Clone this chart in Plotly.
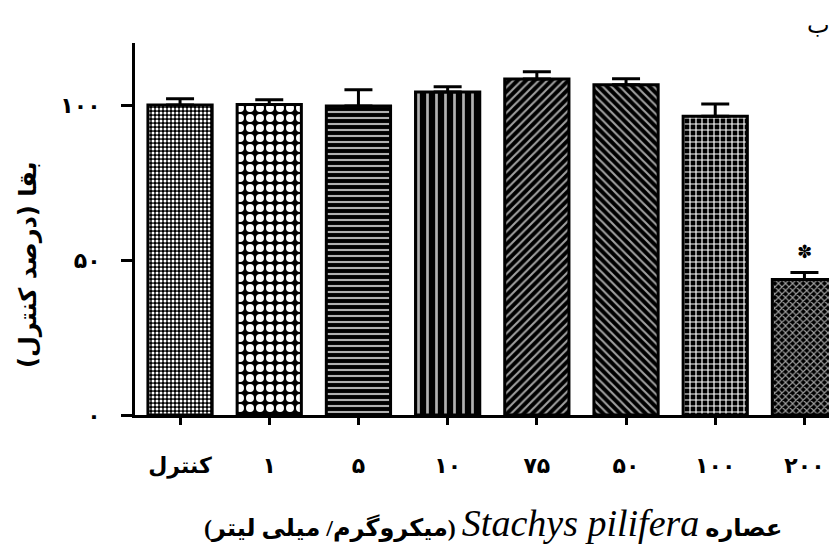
import plotly.graph_objects as go

categories = ["کنترل", "۱", "۵", "۱۰", "۷۵", "۵۰", "۱۰۰", "۲۰۰"]
survival = [100.0, 100.2, 99.7, 104.2, 108.4, 106.5, 96.4, 43.7]
sem = [2.0, 1.5, 5.2, 1.7, 2.3, 2.0, 3.9, 2.3]
ytick_vals = [0, 50, 100]
ytick_text = ["۰", "۵۰", "۱۰۰"]

shapes = [".", ".", "-", "|", "/", "\\", "+", "x"]
fg = ["white", "white", "#b0b0b0", "#b0b0b0", "#a0a0a0", "#a0a0a0", "white", "#a0a0a0"]
psize = [4, 10, 6, 9, 6, 6, 6, 5]
solid = [0.45, 0.5, 0.35, 0.3, 0.35, 0.35, 0.35, 0.4]

AR = "DejaVu Sans"
RLE, PDF = "\u202b", "\u202c"

# the page body has an 8px margin; the figure is sized so the plot sits where the reference has it
OFF = 8
PLOT_L, PLOT_T, PLOT_W, PLOT_H = 135, 43, 702, 372
FIG_W, FIG_H = 837 - OFF, 546 - OFF


def px(sx):
    return (sx - PLOT_L) / PLOT_W


def py(sy):
    return (PLOT_T + PLOT_H - sy) / PLOT_H


fig = go.Figure()
fig.add_trace(go.Bar(
    x=categories, y=survival, width=0.72,
    marker=dict(color="black", line=dict(color="black", width=3),
                pattern=dict(shape=shapes, fgcolor=fg, bgcolor="black",
                             size=psize, solidity=solid, fillmode="replace")),
    error_y=dict(type="data", array=sem, arrayminus=[0] * len(sem), symmetric=False,
                 color="black", thickness=3, width=14),
))

fig.add_annotation(x=categories[7], y=52.7, text="✽", xref="x", yref="y",
                   showarrow=False, font=dict(size=18, color="black", family=AR))

fig.add_annotation(xref="paper", yref="paper", x=px(818), y=py(25), text="ب",
                   showarrow=False, font=dict(size=24, color="black", family=AR),
                   xanchor="center", yanchor="middle")

fig.add_annotation(xref="paper", yref="paper", x=px(28), y=py(265),
                   text=RLE + "بقا (درصد کنترل)" + PDF, textangle=-90, showarrow=False,
                   font=dict(size=24, family=AR, weight="bold"),
                   xanchor="center", yanchor="middle")

fig.add_annotation(xref="paper", yref="paper", x=px(493), y=py(523),
                   text=RLE + "<b>عصاره</b> <span style=\"font-size:38px\"><i>Stachys pilifera</i></span> <b>(میکروگرم/ میلی لیتر)</b>" + PDF,
                   showarrow=False, font=dict(size=24, family="Liberation Serif, " + AR),
                   xanchor="center", yanchor="middle")

fig.update_layout(
    width=FIG_W, height=FIG_H,
    margin=dict(l=PLOT_L - OFF, r=0, t=PLOT_T - OFF,
                b=FIG_H - (PLOT_T + PLOT_H - OFF)),
    plot_bgcolor="white", paper_bgcolor="white",
    showlegend=False,
    font=dict(family="Liberation Serif, " + AR, color="black"),
    xaxis=dict(type="category", range=[-0.505, 7.365], showline=True, linewidth=3,
               linecolor="black", ticks="outside", ticklen=7, tickwidth=3,
               tickcolor="black", showgrid=False,
               tickfont=dict(size=22, family=AR, weight="bold"),
               ticklabelstandoff=22),
    yaxis=dict(range=[0, 120], tickvals=ytick_vals, ticktext=ytick_text,
               showline=True, linewidth=3, linecolor="black", ticks="outside",
               ticklen=11, tickwidth=3, tickcolor="black", showgrid=False,
               zeroline=False, tickfont=dict(size=22, family=AR, weight="bold"),
               ticklabelstandoff=16),
)

fig.write_html("out.html")
